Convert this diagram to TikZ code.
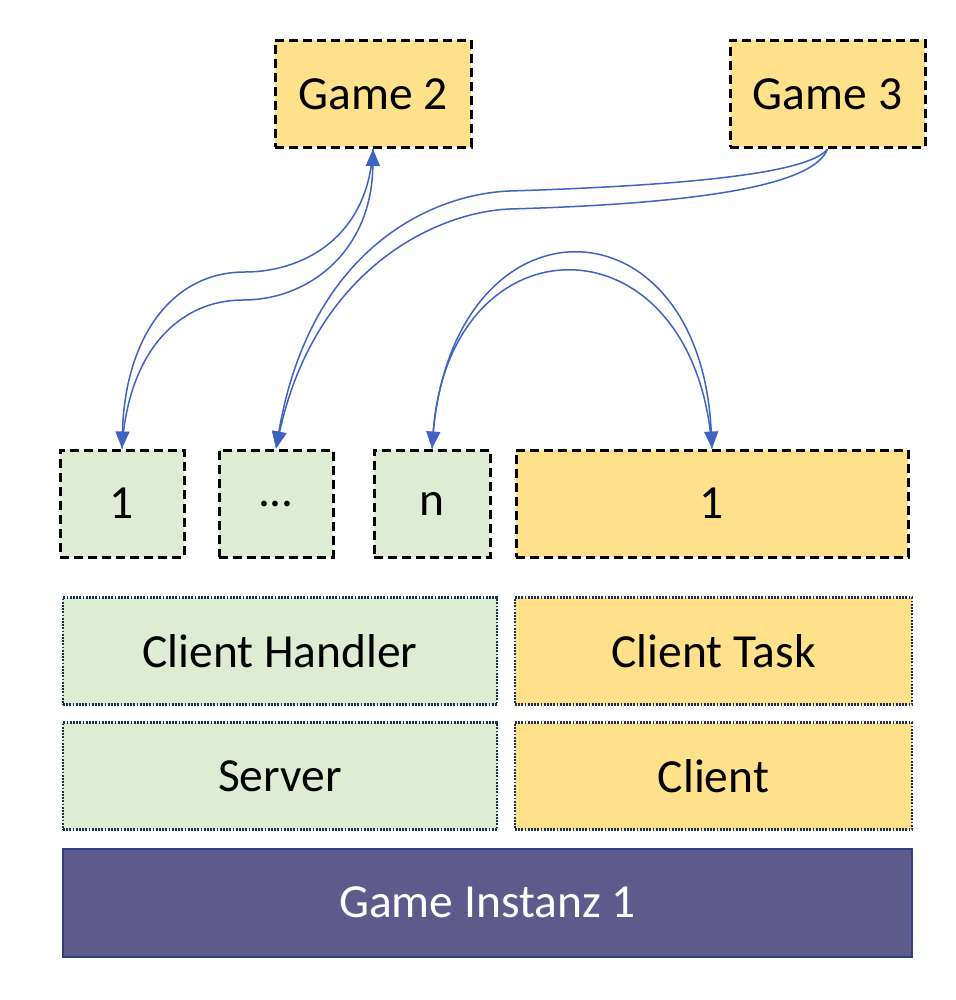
\documentclass[tikz,border=0pt]{standalone}
\usepackage{fontspec}
\setmainfont{Carlito}
\usetikzlibrary{arrows.meta}
\definecolor{gold}{HTML}{FEE18A}
\definecolor{mint}{HTML}{DEECD3}
\definecolor{navy}{HTML}{1A2F5C}
\definecolor{plum}{HTML}{5E5A8C}
\definecolor{plumline}{HTML}{2F3F80}
\definecolor{cblue}{HTML}{3F63C0}
\begin{document}
\begin{tikzpicture}[x=1pt,y=-1pt,
  txt/.style={font=\fontsize{47.5}{57}\selectfont, inner sep=0pt},
  dbox/.style={txt, draw=black, line width=3pt, dash pattern=on 9pt off 5pt, minimum height=107pt},
  obox/.style={txt, draw=navy, line width=2.6pt, dash pattern=on 1.8pt off 1.4pt, minimum height=107pt},
  conn/.style={draw=cblue, line width=1.5pt, -{Triangle[length=17pt,width=14pt]}}
]
\useasboundingbox (0,0) rectangle (955,1000);
% top games
\node[dbox, fill=gold, minimum width=196pt] (g2) at (373,94) {Game 2};
\node[dbox, fill=gold, minimum width=195pt] (g3) at (827.5,94) {Game 3};
% small boxes
\node[dbox, fill=mint, minimum width=124pt] (b1) at (122,503.5) {1};
\node[dbox, fill=mint, minimum width=114pt] (bd) at (276,503.5) {...};
\node[dbox, fill=mint, minimum width=116pt] (bn) at (432,503.5) {n};
\node[dbox, fill=gold, minimum width=392pt] (by) at (712,503.5) {1};
% layers
\node[obox, fill=mint, minimum width=434pt] (ch) at (280,651) {Client Handler};
\node[obox, fill=gold, minimum width=397pt] (ct) at (713.5,651) {Client Task};
\node[obox, fill=mint, minimum width=434pt] (sv) at (280,776) {Server};
\node[obox, fill=gold, minimum width=397pt] (cl) at (713.5,776) {Client};
\node[txt, draw=plumline, line width=2pt, fill=plum, text=white, minimum width=849pt, minimum height=108pt] (gi) at (487.5,902.5) {Game Instanz 1};
% connectors Game 2 <-> 1
\draw[conn] (b1.north) .. controls (128,350) and (180,300) .. (243,300)
  .. controls (310,300) and (372,250) .. (g2.south);
\draw[conn] (g2.south) .. controls (368,240) and (300,272) .. (245,272)
  .. controls (170,272) and (125,340) .. (b1.north);
% connectors Game 3 -> ...
\draw[conn] (g3.south) .. controls (810,172) and (700,185) .. (510,191)
  .. controls (430,194) and (310,250) .. (bd.north);
\draw[conn] (g3.south) .. controls (815,182) and (720,203) .. (510,209)
  .. controls (435,212) and (315,270) .. (bd.north);
% connectors n <-> 1
\draw[conn] (bn.north) .. controls (445,189) and (700,189) .. (by.north);
\draw[conn] (by.north) .. controls (695,213) and (450,213) .. (bn.north);
\end{tikzpicture}
\end{document}
